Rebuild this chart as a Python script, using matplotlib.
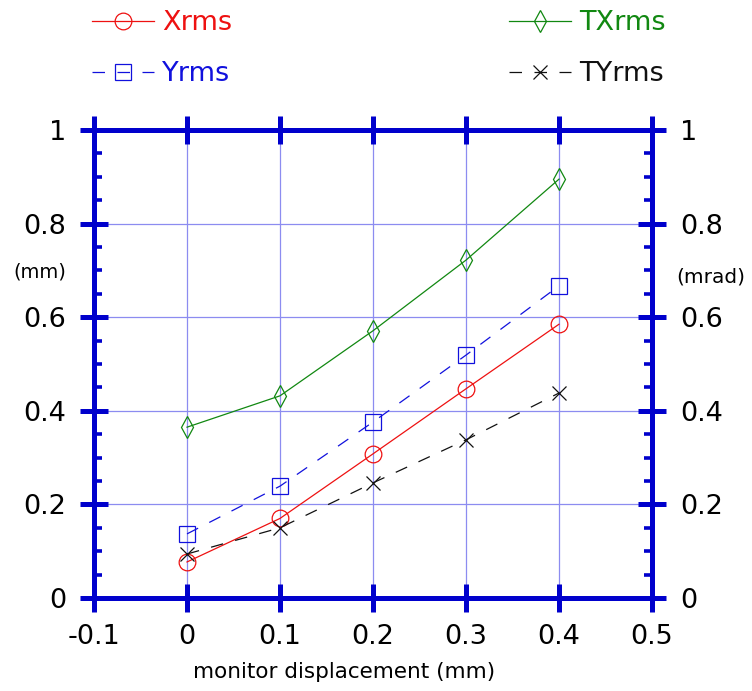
import matplotlib
matplotlib.use("Agg")
import matplotlib.pyplot as plt
from matplotlib.ticker import MultipleLocator

plt.rcParams['font.family'] = ['DejaVu Sans']

x = [0.0, 0.1, 0.2, 0.3, 0.4]
xrms = [0.077, 0.170, 0.308, 0.447, 0.585]
yrms = [0.137, 0.239, 0.376, 0.519, 0.667]
txrms = [0.365, 0.432, 0.571, 0.722, 0.895]
tyrms = [0.094, 0.150, 0.246, 0.338, 0.438]

xticks = [-0.1, 0, 0.1, 0.2, 0.3, 0.4, 0.5]
xticklabels = ['-0.1', '0', '0.1', '0.2', '0.3', '0.4', '0.5']
yticks = [0, 0.2, 0.4, 0.6, 0.8, 1.0]
yticklabels = ['0', '0.2', '0.4', '0.6', '0.8', '1']

W, H = 752, 691
fig = plt.figure(figsize=(W / 100, H / 100), dpi=100)
ax = fig.add_axes([94 / W, 1 - 598 / H, (652 - 94) / W, (598 - 130) / H])
blue = '#0000cc'

h1, = ax.plot(x, xrms, color='#ee1111', lw=0.9, marker='o', ms=12, mfc='none', mec='#ee1111', mew=0.9, label='Xrms')
h2, = ax.plot(x, yrms, color='#1111dd', lw=0.9, ls=(0, (10, 10)), marker='s', ms=11, mfc='none', mec='#1111dd', mew=0.9, label='Yrms')
h3, = ax.plot(x, txrms, color='#118811', lw=0.9, marker='d', ms=11, mfc='none', mec='#118811', mew=0.9, label='TXrms')
h4, = ax.plot(x, tyrms, color='#111111', lw=0.9, ls=(0, (10, 10)), marker='x', ms=10, mec='#111111', mew=0.9, label='TYrms')

ax.set_xlim(-0.1, 0.5)
ax.set_ylim(0, 1)
ax.set_xticks(xticks)
ax.set_xticklabels(xticklabels)
ax.set_yticks(yticks)
ax.set_yticklabels(yticklabels)
ax.yaxis.set_minor_locator(MultipleLocator(0.05))

ax.grid(True, which='major', color='#8c8cf0', lw=0.9)
ax.set_axisbelow(True)
for s in ax.spines.values():
    s.set_color(blue)
    s.set_linewidth(3.6)

ax.tick_params(which='major', direction='inout', length=20, width=3.6, color=blue,
               labelsize=19.5, top=True, right=True, labelright=True)
ax.tick_params(axis='y', which='major', pad=10)
ax.tick_params(axis='x', which='major', pad=9)
ax.tick_params(axis='y', which='minor', direction='in', length=6, width=2.6, color=blue,
               left=True, right=True)
ax.tick_params(axis='x', which='minor', bottom=False, top=False)

ax.set_xlabel('monitor displacement (mm)', fontsize=15.5, labelpad=8, x=(344 - 94) / (652 - 94))
fig.text(40 / W, 1 - 272 / H, '(mm)', fontsize=14, ha='center', va='center')
fig.text(711 / W, 1 - 277 / H, '(mrad)', fontsize=14.5, ha='center', va='center')

leg = fig.legend(handles=[h1, h2, h3, h4], ncol=2, loc='upper left', bbox_to_anchor=(92 / W, 1 - 10 / H),
                 frameon=False, fontsize=19.5, labelcolor='linecolor', handlelength=2.3,
                 handletextpad=0.3, columnspacing=10.2, labelspacing=0.93,
                 borderpad=0, borderaxespad=0)

fig.savefig('out.png', dpi=100)
